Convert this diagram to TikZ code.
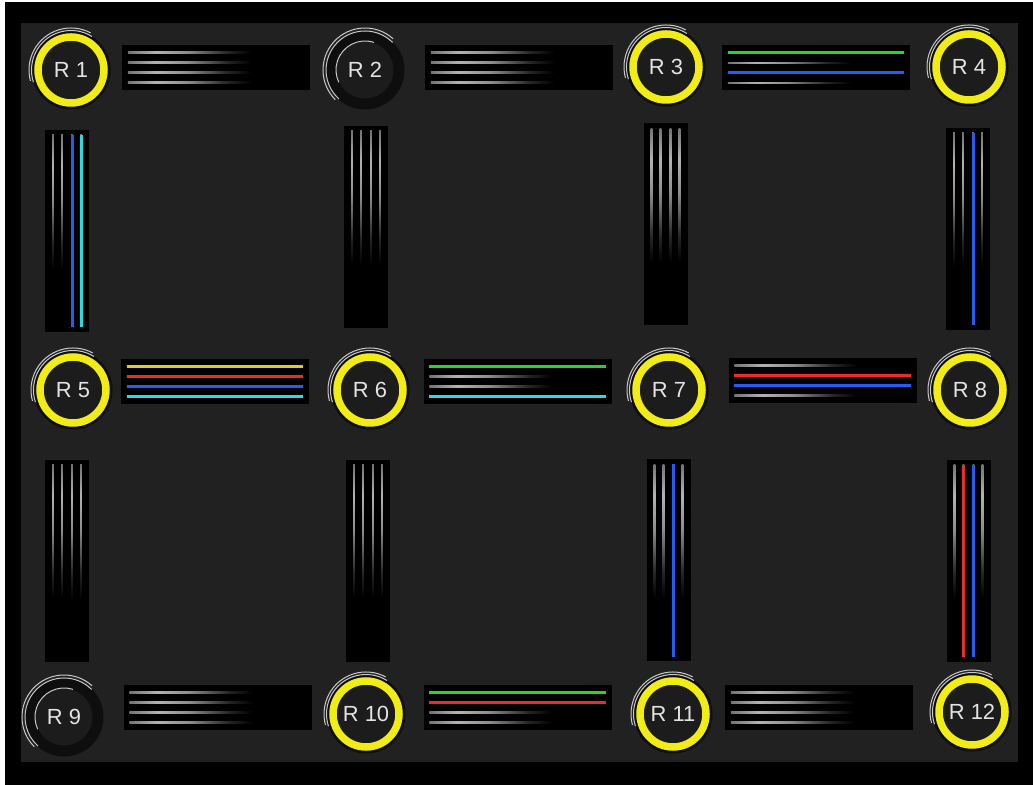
\documentclass[tikz,border=0pt]{standalone}
\usepackage{fontspec}
\setmainfont{Liberation Sans}
\usetikzlibrary{calc}
\definecolor{meshFrame}{RGB}{0,0,0}
\definecolor{meshPanel}{RGB}{33,33,33}
\definecolor{meshYellow}{RGB}{242,236,22}
\definecolor{meshCore}{RGB}{28,28,28}
\definecolor{meshShadow}{RGB}{14,14,14}
\definecolor{meshGlint}{RGB}{200,200,200}
\definecolor{meshLabel}{RGB}{228,228,228}
\definecolor{laneGreen}{RGB}{40,214,40}
\definecolor{laneBlue}{RGB}{38,92,240}
\definecolor{laneCyan}{RGB}{38,222,226}
\definecolor{laneRed}{RGB}{236,44,44}
\definecolor{laneYellow}{RGB}{226,200,34}
\pgfdeclarehorizontalshading{hfade}{100bp}{color(0bp)=(black!55); color(25bp)=(black!55); color(33bp)=(black!30); color(42bp)=(black!45); color(53bp)=(black!85); color(60bp)=(black); color(100bp)=(black)}
\pgfdeclareverticalshading{vfade}{100bp}{color(0bp)=(black); color(40bp)=(black); color(47bp)=(black!85); color(58bp)=(black!45); color(67bp)=(black!30); color(75bp)=(black!55); color(100bp)=(black!55)}

\begin{document}
\begin{tikzpicture}[
  x=1bp,y=1bp,
  router/.style={
    circle,
    draw=meshYellow,
    line width=7.5bp,
    fill=meshCore,
    minimum size=66bp,
    inner sep=0pt,
    text=meshLabel,
    font=\fontsize{22}{22}\selectfont,
    preaction={draw=meshShadow,line width=13bp}
  },
  idlerouter/.style={router,draw=meshShadow,line width=9bp},
  linkbox/.style={fill=black,inner sep=0pt},
  hbox/.style={linkbox,minimum width=188bp,minimum height=45bp},
  vbox/.style={linkbox,minimum width=44bp,minimum height=202bp},
  lane/.style={line width=3bp},
  glint/.style={meshGlint,line width=1bp}
]
  \useasboundingbox (0,0) rectangle (1033,785);
  \fill[white] (0,0) rectangle (1033,785);
  \fill[meshFrame] (5,0) rectangle (1033,783);
  \fill[meshPanel] (21,23) rectangle (1018,762);

  % routers
  \node[router] (r1) at (71,715) {R 1};
  \node[idlerouter] (r2) at (365,715) {R 2};
  \node[router] (r3) at (666,718) {R 3};
  \node[router] (r4) at (969,718) {R 4};
  \node[router] (r5) at (73,395) {R 5};
  \node[router] (r6) at (370,395) {R 6};
  \node[router] (r7) at (669,395) {R 7};
  \node[router] (r8) at (970,395) {R 8};
  \node[idlerouter] (r9) at (64,68) {R 9};
  \node[router] (r10) at (366,71) {R 10};
  \node[router] (r11) at (673,71) {R 11};
  \node[router] (r12) at (972,73) {R 12};

  % links
  \node[hbox] (h12) at (216,717.5) {};
  \node[hbox] (h23) at (519,717.5) {};
  \node[hbox] (h34) at (816,717) {};
  \node[hbox] (h56) at (215,403.5) {};
  \node[hbox] (h67) at (517.5,403.5) {};
  \node[hbox] (h78) at (822.5,404.5) {};
  \node[hbox] (h910) at (217.5,77.5) {};
  \node[hbox] (h1011) at (517.5,77.5) {};
  \node[hbox] (h1112) at (819,77.5) {};
  \node[vbox] (v15) at (67,554) {};
  \node[vbox] (v26) at (366,558) {};
  \node[vbox] (v37) at (665.5,560.5) {};
  \node[vbox] (v48) at (968,556) {};
  \node[vbox] (v59) at (67,224) {};
  \node[vbox] (v610) at (368,224) {};
  \node[vbox] (v711) at (668.5,224.5) {};
  \node[vbox] (v812) at (968.5,224) {};

  % idle lanes
  \foreach \lnk in {h12,h23,h34,h56,h67,h78,h910,h1011,h1112}
    \foreach \off in {15,5,-5,-15}
      \shade[shading=hfade] ($(\lnk.west)+(6,\off-0.8)$) rectangle ($(\lnk.east)+(-6,\off+0.8)$);
  \foreach \lnk in {v15,v26,v37,v48,v59,v610,v711,v812}
    \foreach \off in {-14,-5,5,14}
      \shade[shading=vfade] ($(\lnk.south)+(\off-0.8,5)$) rectangle ($(\lnk.north)+(\off+0.8,-5)$);

  % busy lanes
  \foreach \lnk/\off/\col in {h34/15/laneGreen,h34/-5/laneBlue,
      h56/15/laneYellow,h56/5/laneRed,h56/-5/laneBlue,h56/-15/laneCyan,
      h67/15/laneGreen,h67/-15/laneCyan,h78/5/laneRed,h78/-5/laneBlue,
      h1011/15/laneGreen,h1011/5/laneRed}
    \draw[lane,\col] ($(\lnk.west)+(6,\off)$) -- ($(\lnk.east)+(-6,\off)$);
  \foreach \lnk/\off/\col in {v15/5/laneBlue,v15/14/laneCyan,v48/5/laneBlue,
      v711/5/laneBlue,v812/-5/laneRed,v812/5/laneBlue}
    \draw[lane,\col] ($(\lnk.south)+(\off,5)$) -- ($(\lnk.north)+(\off,-5)$);

  % router glints
  \foreach \rt in {r1,r3,r4,r5,r6,r7,r8,r10,r11,r12} {
    \draw[glint] ($(\rt.center)+(58:39.5bp)$) arc[start angle=58,end angle=198,radius=39.5bp];
    \draw[glint] ($(\rt.center)+(62:42bp)$) arc[start angle=62,end angle=195,radius=42bp];
  }
  \foreach \rt in {r2,r9} {
    \draw[glint] ($(\rt.center)+(45:39bp)$) arc[start angle=45,end angle=228,radius=39bp];
    \draw[glint] ($(\rt.center)+(48:42bp)$) arc[start angle=48,end angle=225,radius=42bp];
    \draw[glint] ($(\rt.center)+(72:29bp)$) arc[start angle=72,end angle=205,radius=29bp];
  }
\end{tikzpicture}
\end{document}
